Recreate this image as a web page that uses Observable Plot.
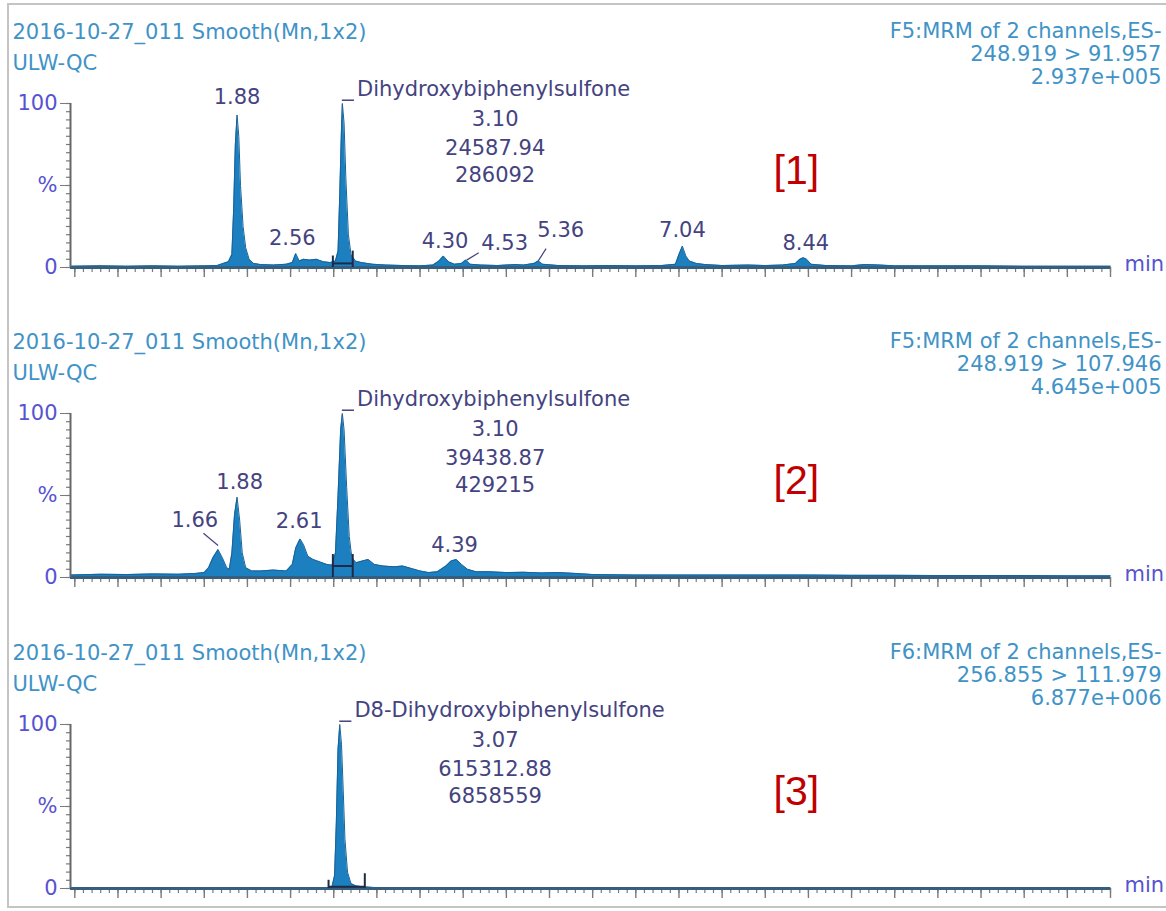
<!DOCTYPE html>
<html><head><meta charset="utf-8">
<script src="https://cdn.jsdelivr.net/npm/d3@7"></script>
<script src="https://cdn.jsdelivr.net/npm/@observablehq/plot@0.6"></script>
<style>
body{margin:0;background:#fff;}
#wrap{position:relative;width:1166px;height:911px;overflow:hidden;font-family:"DejaVu Sans",sans-serif;}
#frame{position:absolute;left:7px;top:3px;width:1175px;height:905px;border:2px solid #c4c4c4;box-sizing:border-box;}
.panel{position:absolute;left:0;}
</style></head><body><div id="wrap"><div id="frame"></div></div>
<script>
// ---------- data ----------
const xDomain = [-0.05, 12];

const headerLeft = ["2016-10-27_011 Smooth(Mn,1x2)", "ULW-QC"];
const headerRight1 = ["F5:MRM of 2 channels,ES-", "248.919 > 91.957", "2.937e+005"];
const headerRight2 = ["F5:MRM of 2 channels,ES-", "248.919 > 107.946", "4.645e+005"];
const headerRight3 = ["F6:MRM of 2 channels,ES-", "256.855 > 111.979", "6.877e+006"];
const panelTags = ["[1]", "[2]", "[3]"];

// trace: [time (min), intensity (%)]
const trace1 = [[-0.05,0.8],[0.3,1.0],[0.6,0.8],[0.9,1.0],[1.2,0.8],[1.5,1.0],[1.65,1.2],[1.72,2.5],[1.78,3.5],[1.82,8],[1.84,35],[1.86,75],[1.88,93],[1.90,80],[1.92,50],[1.95,25],[1.98,12],[2.02,5],[2.07,2.5],[2.15,1.8],[2.3,1.5],[2.45,2],[2.52,3],[2.56,8.5],[2.60,4],[2.65,5],[2.72,4.5],[2.8,5],[2.88,3.5],[2.96,3],[3.02,4],[3.05,10],[3.07,45],[3.09,85],[3.10,100],[3.12,88],[3.14,55],[3.17,20],[3.20,8],[3.25,4],[3.32,3],[3.45,2],[3.6,1.5],[3.8,1.2],[4.0,1.0],[4.15,1.5],[4.22,4],[4.27,7],[4.33,3.5],[4.40,2],[4.48,2.5],[4.53,4.5],[4.58,2],[4.7,1.5],[4.9,1.2],[5.1,1.8],[5.2,1.5],[5.32,2.5],[5.37,4],[5.42,2],[5.6,1.2],[5.9,1],[6.2,1.2],[6.5,1],[6.8,1.2],[6.96,2],[7.00,8],[7.04,13],[7.08,7],[7.12,4],[7.2,2.5],[7.3,1.8],[7.5,1.2],[7.8,1.5],[8.0,1.2],[8.2,1.5],[8.35,2.5],[8.40,5],[8.44,6],[8.48,5],[8.53,2],[8.7,1.2],[9.0,1],[9.15,1.8],[9.3,1.6],[9.5,1],[10.0,1],[10.5,1],[11.0,0.8],[11.5,0.8],[12.0,0.8]];
const trace2 = [[-0.05,1.5],[0.3,2],[0.6,1.8],[0.9,2.2],[1.2,2],[1.4,2.5],[1.5,3],[1.55,6],[1.60,12],[1.66,17],[1.71,12],[1.76,6],[1.79,5],[1.82,15],[1.85,38],[1.88,49],[1.91,35],[1.94,15],[1.98,6],[2.05,4],[2.15,4],[2.3,4.5],[2.45,4],[2.52,8],[2.56,18],[2.61,23.5],[2.65,20],[2.70,13],[2.76,11],[2.84,9.5],[2.92,8],[2.98,7.5],[3.02,15],[3.05,50],[3.08,90],[3.10,100],[3.12,90],[3.15,55],[3.18,25],[3.21,12],[3.26,9],[3.33,10],[3.40,11],[3.47,8],[3.57,7],[3.7,6.5],[3.8,7],[3.9,5.5],[4.0,4],[4.1,3],[4.2,3.5],[4.3,7],[4.36,10],[4.42,11],[4.48,8],[4.55,5],[4.65,3.5],[4.8,3.5],[5.0,3],[5.2,3.2],[5.4,2.8],[5.6,3],[5.8,2.5],[6.0,1.8],[6.5,1.5],[7.0,1.5],[7.5,1.5],[8.0,1.5],[8.5,1.5],[9.0,1.3],[9.5,1.3],[10.0,1.2],[10.5,1.2],[11.0,1.2],[11.5,1.0],[12.0,1.0]];
const trace3 = [[-0.05,0.3],[1,0.3],[2,0.3],[2.9,0.3],[2.98,1],[3.01,8],[3.03,40],[3.05,85],[3.07,100],[3.09,88],[3.11,60],[3.13,30],[3.16,10],[3.20,3],[3.26,1.5],[3.35,1],[3.5,0.5],[4,0.3],[6,0.3],[8,0.3],[10,0.3],[12,0.3]];

// peak labels: [label time, label level %, text]
const peaks1 = [[1.88,104,"1.88"],[2.52,18,"2.56"],[4.29,16,"4.30"],[4.98,15,"4.53"],[5.63,23,"5.36"],[7.04,23,"7.04"],[8.47,15,"8.44"]];
const peaks2 = [[1.91,58,"1.88"],[1.39,35,"1.66"],[2.60,34,"2.61"],[4.40,19.5,"4.39"]];
const peaks3 = [];
// leader lines: [peak time, peak %, label time, label %]
const leaders1 = [[4.54,4.5,4.68,9],[5.37,4,5.46,11.5]];
const leaders2 = [[1.66,19.5,1.49,27]];
const leaders3 = [];

// main compound annotation: [name, RT, area, height]
const compound1 = ["Dihydroxybiphenylsulfone", "3.10", "24587.94", "286092"];
const compound2 = ["Dihydroxybiphenylsulfone", "3.10", "39438.87", "429215"];
const compound3 = ["D8-Dihydroxybiphenylsulfone", "3.07", "615312.88", "6858559"];
const compoundRT = [3.10, 3.10, 3.07];

// integration: [start, end, baseline %, start mark top %, end mark top %]
const integ1 = [2.99, 3.22, 2.5, 7, 10];
const integ2 = [2.99, 3.22, 7, 14, 14];
const integ3 = [2.94, 3.36, 1, 5, 9];

// ---------- drawing ----------
const FONT = "DejaVu Sans, sans-serif";
const C_HDR = "#3f93c6", C_LBL = "#44437f", C_AX = "#5653d2", C_TAG = "#c00000";
const minor = d3.range(0, 121).map(i => i / 10);
const major = d3.range(0, 25).map(i => i / 2);

function panel(top, height, trace, peaks, leaders, compound, rt, integ, hdrR, tag) {
  const tr = trace.map(([t, v]) => ({t, v}));
  const [s, e, b, hs, he] = integ;
  const plot = Plot.plot({
    width: 1166, height,
    marginLeft: 70, marginRight: 56, marginTop: 103, marginBottom: height - 267,
    x: {domain: xDomain, axis: null},
    y: {domain: [0, 100], axis: null},
    style: {fontFamily: FONT, fontSize: "21px", background: "transparent", overflow: "visible"},
    marks: [
      Plot.axisX({ticks: minor, tickSize: 5, tickFormat: () => "", label: null, stroke: "#7a7a7a", strokeWidth: 1.2}),
      Plot.axisX({ticks: major, tickSize: 10, tickFormat: () => "", label: null, stroke: "#7a7a7a", strokeWidth: 1.4}),
      Plot.axisY({ticks: d3.range(0, 101, 5), tickSize: 4, tickFormat: () => "", label: null, stroke: "#7a7a7a", strokeWidth: 1.2}),
      Plot.axisY({ticks: [0, 50, 100], tickSize: 10, tickPadding: 3, tickFormat: d => d === 50 ? "%" : String(d), label: null, stroke: "#7a7a7a", fill: C_AX, fontSize: 21}),
      Plot.areaY(tr, {x: "t", y: "v", fill: "#1b7fc0"}),
      Plot.lineY(tr, {x: "t", y: "v", stroke: "#1a6298", strokeWidth: 1}),
      Plot.ruleY([0], {stroke: "#355f7c", strokeWidth: 3}),
      Plot.ruleX([xDomain[0]], {y1: 0, y2: 100, stroke: "#666", strokeWidth: 2}),
      // integration marks
      Plot.ruleY([b], {x1: s, x2: e, stroke: "#1e2a48", strokeWidth: 2}),
      Plot.ruleX([s], {y1: 0, y2: hs, stroke: "#1e2a48", strokeWidth: 2}),
      Plot.ruleX([e], {y1: 0, y2: he, stroke: "#1e2a48", strokeWidth: 2}),
      // peak labels
      Plot.text(peaks, {x: d => d[0], y: d => d[1], text: d => d[2], fill: C_LBL, fontSize: 21}),
      Plot.link(leaders, {x1: d => d[0], y1: d => d[1], x2: d => d[2], y2: d => d[3], stroke: C_LBL, strokeWidth: 1.2}),
      // compound annotation
      Plot.ruleY([102], {x1: rt, x2: rt + 0.14, stroke: C_LBL, strokeWidth: 1.5}),
      Plot.text([compound[0]], {x: rt + 0.17, y: 108.5, text: d => d, textAnchor: "start", fill: C_LBL, fontSize: 21}),
      Plot.text(compound.slice(1), {x: 4.87, y: (d, i) => [90.5, 72.5, 56.5][i], text: d => d, fill: C_LBL, fontSize: 21}),
      // tag
      Plot.text([tag], {x: 8.36, y: 59, text: d => d, fill: C_TAG, fontSize: 41, fontFamily: "Liberation Sans, Arial, sans-serif"}),
      // headers
      Plot.text([headerLeft[0]], {frameAnchor: "top-left", dx: -58, dy: -79, text: d => d, textAnchor: "start", fill: C_HDR, fontSize: 21}),
      Plot.text([headerLeft[1]], {frameAnchor: "top-left", dx: -58, dy: -48, text: d => d, textAnchor: "start", fill: C_HDR, fontSize: 21}),
      Plot.text([hdrR[0]], {frameAnchor: "top-right", dx: 51, dy: -80, text: d => d, textAnchor: "end", fill: C_HDR, fontSize: 21}),
      Plot.text([hdrR[1]], {frameAnchor: "top-right", dx: 51, dy: -57, text: d => d, textAnchor: "end", fill: C_HDR, fontSize: 21}),
      Plot.text([hdrR[2]], {frameAnchor: "top-right", dx: 51, dy: -34, text: d => d, textAnchor: "end", fill: C_HDR, fontSize: 21}),
      Plot.text(["min"], {frameAnchor: "bottom-right", dx: 14, dy: 3, text: d => d, textAnchor: "start", fill: C_AX, fontSize: 21})
    ]
  });
  plot.classList.add("panel");
  plot.style.top = top + "px";
  document.getElementById("wrap").appendChild(plot);
  return plot;
}

panel(0, 310, trace1, peaks1, leaders1, compound1, compoundRT[0], integ1, headerRight1, panelTags[0]);
panel(310, 310, trace2, peaks2, leaders2, compound2, compoundRT[1], integ2, headerRight2, panelTags[1]);
panel(621, 290, trace3, peaks3, leaders3, compound3, compoundRT[2], integ3, headerRight3, panelTags[2]);
</script>
</body></html>
